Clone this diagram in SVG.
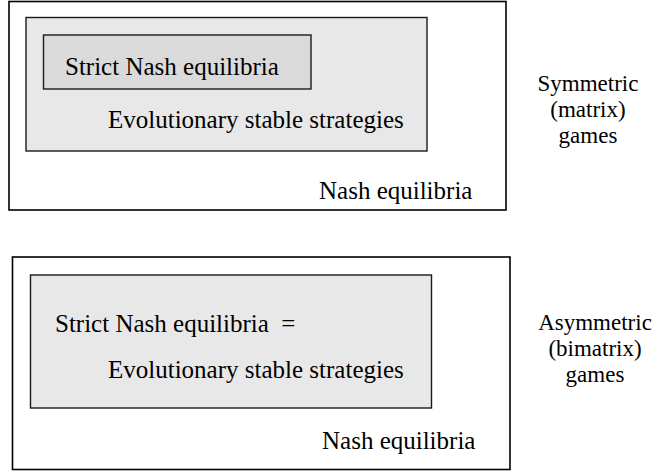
<svg xmlns="http://www.w3.org/2000/svg" width="661" height="475" viewBox="0 0 661 475" font-family="'Liberation Serif', 'Times New Roman', 'DejaVu Serif', serif" font-size="25">
<style>
.outer{fill:#ffffff;stroke:#000;stroke-width:1.6}
.mid{fill:#e8e8e8;stroke:#1a1a1a;stroke-width:1.4}
.inner{fill:#dadada;stroke:#1a1a1a;stroke-width:1.4}
.t{font-family:'Liberation Serif','Times New Roman','DejaVu Serif',serif;font-size:25px;fill:#000}
.c{text-anchor:middle;font-size:23px}
</style>
<rect width="661" height="475" fill="#fff"/>
<g id="sym-nash">
<rect class="outer" x="9" y="1.5" width="497" height="208.5"/>
<text class="t" x="319" y="199">Nash equilibria</text>
</g>
<g id="sym-ess">
<rect class="mid" x="26" y="17.5" width="401" height="133.5"/>
<text class="t" x="108" y="128">Evolutionary stable strategies</text>
</g>
<g id="sym-strict">
<rect class="inner" x="43.5" y="35" width="267.5" height="54"/>
<text class="t" x="65" y="75">Strict Nash equilibria</text>
</g>
<g id="sym-label">
<text class="t c" x="588" y="91">Symmetric</text>
<text class="t c" x="588" y="117">(matrix)</text>
<text class="t c" x="588" y="143">games</text>
</g>
<g id="asym-nash">
<rect class="outer" x="12.5" y="257" width="497.5" height="212.5"/>
<text class="t" x="322" y="449">Nash equilibria</text>
</g>
<g id="asym-ess">
<rect class="mid" x="30.5" y="275" width="401" height="133"/>
<text class="t" x="55" y="332" xml:space="preserve">Strict Nash equilibria  =</text>
<text class="t" x="108" y="378">Evolutionary stable strategies</text>
</g>
<g id="asym-label">
<text class="t c" x="595" y="330">Asymmetric</text>
<text class="t c" x="595" y="356">(bimatrix)</text>
<text class="t c" x="595" y="382">games</text>
</g>
<g id="connectors"></g>
</svg>
